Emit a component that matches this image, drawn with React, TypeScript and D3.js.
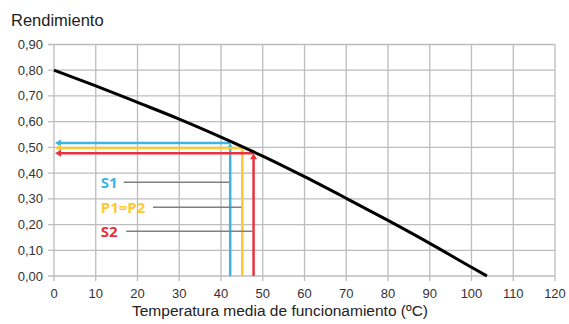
import React from "react";
import * as d3 from "d3";

const tempTicks = [0, 10, 20, 30, 40, 50, 60, 70, 80, 90, 100, 110, 120];
const effTicks = [0, 0.1, 0.2, 0.3, 0.4, 0.5, 0.6, 0.7, 0.8, 0.9];
const curveTemp = [0, 10, 20, 30, 40, 50, 60, 70, 80, 90, 100, 103.7];
const curveEff = [0.8, 0.739, 0.675, 0.61, 0.54, 0.466, 0.386, 0.302, 0.216, 0.127, 0.034, 0];

const markNames = ["S1", "P1=P2", "S2"];
const markTemp = [42.2, 45.1, 47.8];
const markEff = [0.517, 0.498, 0.477];
const markColors = ["#3db4e6", "#ffc933", "#e8333c"];
const labelTemp = [11.2, 11.2, 11.2];
const leaderStart = [16.7, 23.7, 17.3];
const leaderEff = [0.364, 0.267, 0.174];

const W = 569;
const H = 324;
const x0 = 54, x1 = 555, y0 = 276, y1 = 44.5;

export default function App() {
  const x = d3.scaleLinear().domain([0, 120]).range([x0, x1]);
  const y = d3.scaleLinear().domain([0, 0.9]).range([y0, y1]);
  const pts: [number, number][] = curveTemp.map((t, i) => [t, curveEff[i]]);
  const line = d3
    .line<[number, number]>()
    .x((d) => x(d[0]))
    .y((d) => y(d[1]))
    .curve(d3.curveMonotoneX);
  const fmt = (v: number) => v.toFixed(2).replace(".", ",");
  const font = "Liberation Sans, Arial, sans-serif";

  return (
    <svg
      width={W}
      height={H}
      style={{ position: "absolute", left: 0, top: 0, background: "#fff" }}
      fontFamily={font}
    >
      <rect width={W} height={H} fill="#fff" />
      {/* grid */}
      {effTicks.map((v) => (
        <line key={"h" + v} x1={x0 - 6} x2={x1} y1={y(v)} y2={y(v)} stroke="#bdbdbd" strokeWidth={1.3} />
      ))}
      {tempTicks.map((v) => (
        <line key={"v" + v} x1={x(v)} x2={x(v)} y1={y1} y2={y0 + 5} stroke="#bdbdbd" strokeWidth={1.3} />
      ))}
      {/* tick labels */}
      {effTicks.map((v) => (
        <text key={"yl" + v} x={43} y={y(v)} dy="0.35em" textAnchor="end" fontSize={13} fill="#333">
          {fmt(v)}
        </text>
      ))}
      {tempTicks.map((v) => (
        <text key={"xl" + v} x={x(v)} y={298} textAnchor="middle" fontSize={13} fill="#333">
          {v}
        </text>
      ))}
      <text x={11} y={26} fontSize={16.5} fill="#222">Rendimiento</text>
      <text x={280} y={316} textAnchor="middle" fontSize={15.5} fill="#222">
        Temperatura media de funcionamiento (ºC)
      </text>
      {/* marker lines */}
      {markNames.map((n, i) => {
        const c = markColors[i];
        const mx = x(markTemp[i]);
        const my = y(markEff[i]);
        const ax = x(0) + 1;
        return (
          <g key={n}>
            <line x1={mx} x2={mx} y1={y0} y2={my + 4} stroke={c} strokeWidth={2.5} />
            <line x1={mx} x2={ax + 4} y1={my} y2={my} stroke={c} strokeWidth={2.5} />
            <path d={`M${ax},${my} L${ax + 6},${my - 3.5} L${ax + 6},${my + 3.5} Z`} fill={c} />
            <path d={`M${mx},${my} L${mx - 3.5},${my + 6} L${mx + 3.5},${my + 6} Z`} fill={c} />
            <line
              x1={x(leaderStart[i])}
              x2={mx - 1}
              y1={y(leaderEff[i])}
              y2={y(leaderEff[i])}
              stroke="#808080"
              strokeWidth={1.5}
            />
            <text
              x={x(labelTemp[i])}
              y={y(leaderEff[i])}
              dy="0.38em"
              fontSize={15}
              fontWeight="bold"
              fill={c}
              fontFamily="Open Sans, DejaVu Sans, sans-serif"
            >
              {n}
            </text>
          </g>
        );
      })}
      {/* curve */}
      <path d={line(pts) || ""} fill="none" stroke="#000" strokeWidth={3} />
    </svg>
  );
}
